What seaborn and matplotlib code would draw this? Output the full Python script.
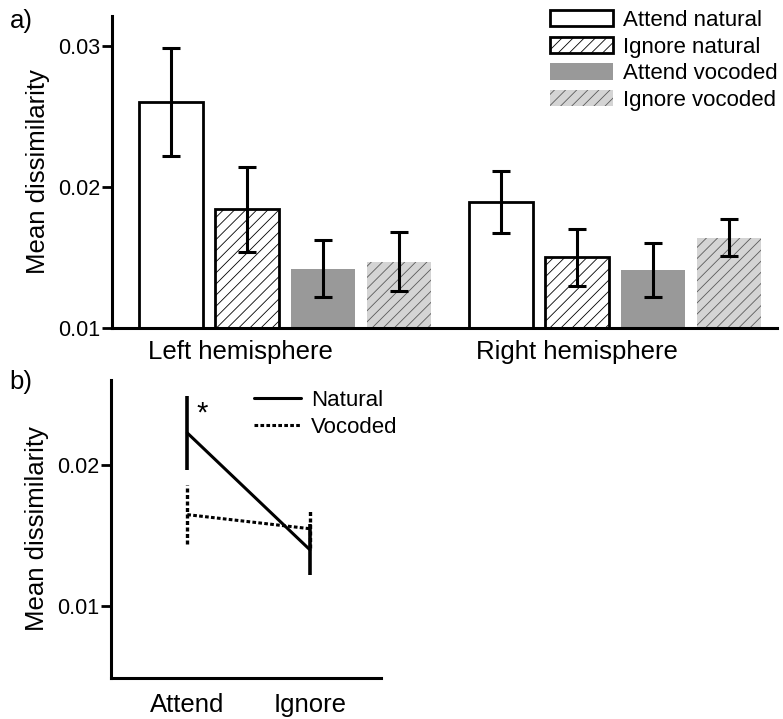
import numpy as np
import pandas as pd
import matplotlib
matplotlib.use("Agg")
import matplotlib.pyplot as plt
import seaborn as sns
from matplotlib.ticker import FixedLocator, FormatStrFormatter

# ---------------- data ----------------
hemispheres = ["Left hemisphere", "Right hemisphere"]
conditions = ["Attend natural", "Ignore natural", "Attend vocoded", "Ignore vocoded"]
attend_natural = [0.0260, 0.0189]
ignore_natural = [0.0184, 0.0150]
attend_vocoded = [0.0142, 0.0141]
ignore_vocoded = [0.0147, 0.0164]
attend_natural_err = [0.0038, 0.0022]
ignore_natural_err = [0.0030, 0.0020]
attend_vocoded_err = [0.0020, 0.0019]
ignore_vocoded_err = [0.0021, 0.0013]

b_conditions = ["Attend", "Ignore"]
b_types = ["Natural", "Vocoded"]
natural_mean = [0.0223, 0.0140]
vocoded_mean = [0.0165, 0.0155]
natural_err = [0.0026, 0.0018]
vocoded_err = [0.0021, 0.0014]

a_yticks = [0.01, 0.02, 0.03]
b_yticks = [0.01, 0.02]

# ---------------- style ----------------
sns.set_style("ticks")
plt.rcParams["font.family"] = ["Liberation Sans", "DejaVu Sans"]
plt.rcParams["hatch.linewidth"] = 0.6
for k in ["text.color", "axes.labelcolor", "xtick.color", "ytick.color", "axes.edgecolor"]:
    plt.rcParams[k] = "black"

fig = plt.figure(figsize=(7.83, 7.19), dpi=100)
ax = fig.add_axes([112 / 783, 1 - 328 / 719, (777 - 112) / 783, (328 - 16) / 719])
ax2 = fig.add_axes([111 / 783, 1 - 678 / 719, (381 - 111) / 783, (678 - 380) / 719])

# ---------------- panel a ----------------
vals = [attend_natural, ignore_natural, attend_vocoded, ignore_vocoded]
errs = [attend_natural_err, ignore_natural_err, attend_vocoded_err, ignore_vocoded_err]
rows = []
for c, v in zip(conditions, vals):
    for h, x in zip(hemispheres, v):
        rows.append({"hemisphere": h, "condition": c, "value": x})
df = pd.DataFrame(rows)

faces = ["white", "white", "#999999", "#d4d4d4"]
sns.barplot(data=df, x="hemisphere", y="value", hue="condition",
            order=hemispheres, hue_order=conditions, palette=faces,
            saturation=1, width=0.92, gap=0.16, errorbar=None,
            legend=False, ax=ax)

styles = [
    dict(hatch=None, edgecolor="black", linewidth=2.0),
    dict(hatch="///", edgecolor="black", linewidth=2.0),
    dict(hatch=None, edgecolor="#999999", linewidth=0),
    dict(hatch="///", edgecolor="#5a5a5a", linewidth=0),
]
handles = []
for cont, st, e in zip(ax.containers, styles, errs):
    for p in cont.patches:
        p.set_hatch(st["hatch"])
        p.set_edgecolor(st["edgecolor"])
        p.set_linewidth(st["linewidth"])
    xs = [p.get_x() + p.get_width() / 2 for p in cont.patches]
    ys = [p.get_height() for p in cont.patches]
    ax.errorbar(xs, ys, yerr=e, fmt="none", ecolor="black",
                elinewidth=2.2, capsize=6.5, capthick=2.2, zorder=5)
    handles.append(cont.patches[0])

ax.set_ylim(0.01, 0.0321)
ax.set_xlim(-0.524, 1.49)
ax.yaxis.set_major_locator(FixedLocator(a_yticks))
ax.yaxis.set_major_formatter(FormatStrFormatter("%.2f"))
ax.set_xticks([-0.135, 0.885], labels=hemispheres)
ax.tick_params(axis="x", length=0, pad=9, labelsize=18.5)
ax.tick_params(axis="y", length=7, width=2, pad=1.5, labelsize=15.5)
ax.set_xlabel("")
ax.set_ylabel("Mean dissimilarity", fontsize=18.5, labelpad=6)
sns.despine(ax=ax)
for s in ["left", "bottom"]:
    ax.spines[s].set_linewidth(2.2)

leg = ax.legend(handles, conditions, loc="upper left",
                bbox_to_anchor=(550 / 783, 1 - 10 / 719), bbox_transform=fig.transFigure,
                frameon=False, fontsize=16, handlelength=2.85, handleheight=0.75,
                labelspacing=0.25, handletextpad=0.45, borderpad=0, borderaxespad=0)

# ---------------- panel b ----------------
rows2 = []
for t, m in zip(b_types, [natural_mean, vocoded_mean]):
    for c, v in zip(b_conditions, m):
        rows2.append({"cond": c, "type": t, "value": v})
df2 = pd.DataFrame(rows2)
sns.lineplot(data=df2, x="cond", y="value", style="type", style_order=b_types,
             dashes={"Natural": "", "Vocoded": (1.2, 0.75)}, color="black",
             linewidth=2.2, legend=False, ax=ax2)
line_handles = ax2.get_lines()[:2]

ax2.errorbar(b_conditions, natural_mean, yerr=natural_err, fmt="none",
             ecolor="black", elinewidth=2.6, capsize=0)
eb = ax2.errorbar(b_conditions, vocoded_mean, yerr=vocoded_err, fmt="none",
                  ecolor="black", elinewidth=2.4, capsize=0)
eb[2][0].set_linestyle((0, (1.2, 0.75)))

ax2.text(0.12, 0.0237, "*", ha="center", va="center", fontsize=21)

ax2.set_ylim(0.0049, 0.02606)
ax2.set_xlim(-0.622, 1.579)
ax2.yaxis.set_major_locator(FixedLocator(b_yticks))
ax2.yaxis.set_major_formatter(FormatStrFormatter("%.2f"))
ax2.tick_params(axis="x", length=0, pad=11, labelsize=18.5)
ax2.tick_params(axis="y", length=7, width=2, pad=1.5, labelsize=15.5)
ax2.set_xlabel("")
ax2.set_ylabel("Mean dissimilarity", fontsize=18.5, labelpad=6)
sns.despine(ax=ax2)
for s in ["left", "bottom"]:
    ax2.spines[s].set_linewidth(2.2)

ax2.legend(line_handles, b_types, loc="upper left",
           bbox_to_anchor=(254 / 783, 1 - 390 / 719), bbox_transform=fig.transFigure,
           frameon=False, fontsize=16, handlelength=2.1, handletextpad=0.45,
           labelspacing=0.28, borderpad=0, borderaxespad=0)

fig.text(10 / 783, 1 - 9 / 719, "a)", fontsize=18.5, ha="left", va="top")
fig.text(9 / 783, 1 - 370 / 719, "b)", fontsize=18.5, ha="left", va="top")

fig.savefig("out.png", dpi=100)
